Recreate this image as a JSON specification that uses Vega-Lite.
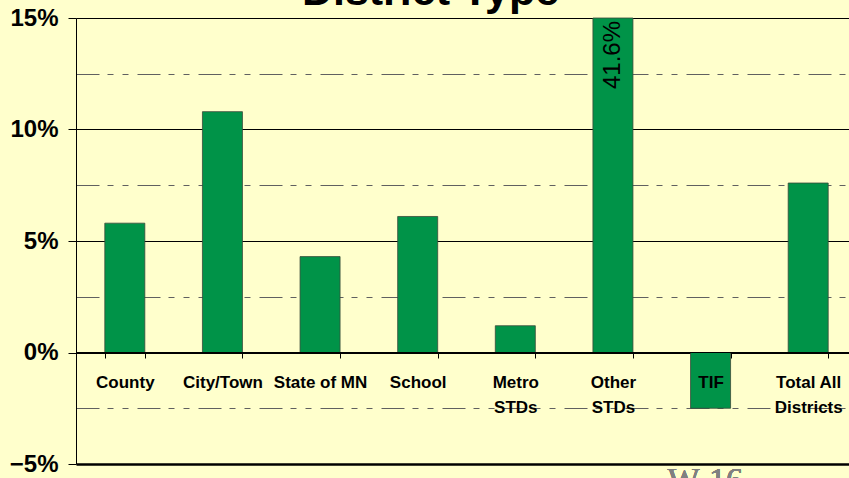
{
  "$schema": "https://vega.github.io/schema/vega-lite/v6.json",
  "width": 781,
  "height": 446,
  "autosize": {"type": "none"},
  "padding": {"left": 76, "top": 18, "right": 0, "bottom": 14},
  "background": "#FFFFCC",
  "title": {
    "text": "District Type",
    "font": "Liberation Sans",
    "fontSize": 43,
    "fontWeight": "bold",
    "color": "#000000",
    "anchor": "middle",
    "frame": "group",
    "baseline": "alphabetic",
    "offset": 0,
    "dy": 42,
    "dx": -36
  },
  "config": {"view": {"stroke": null}},
  "data": {
    "values": [
      {"type": "County", "change": 0.058},
      {"type": "City/Town", "change": 0.108},
      {"type": "State of MN", "change": 0.043},
      {"type": "School", "change": 0.061},
      {"type": "Metro STDs", "change": 0.012},
      {"type": "Other STDs", "change": 0.416},
      {"type": "TIF", "change": -0.025},
      {"type": "Total All Districts", "change": 0.076}
    ]
  },
  "encoding": {
    "x": {
      "field": "type",
      "type": "nominal",
      "sort": null,
      "scale": {"paddingInner": 0.59, "paddingOuter": 0.295},
      "axis": {
        "title": null,
        "orient": "bottom",
        "offset": -112,
        "zindex": 1,
        "grid": false,
        "domainColor": "#000000",
        "domainWidth": 1,
        "tickBand": "extent",
        "tickColor": "#000000",
        "tickSize": 6,
        "labelAngle": 0,
        "labelFont": "Liberation Sans",
        "labelFontWeight": "bold",
        "labelFontSize": 17,
        "labelColor": "#000000",
        "labelPadding": 16,
        "labelLineHeight": 25,
        "labelExpr": "datum.label == 'Metro STDs' ? ['Metro', 'STDs'] : datum.label == 'Other STDs' ? ['Other', 'STDs'] : datum.label == 'Total All Districts' ? ['Total All', 'Districts'] : datum.label"
      }
    }
  },
  "layer": [
    {
      "mark": {"type": "bar", "color": "#009348", "stroke": "#3a4a3a", "strokeWidth": 0.8},
      "encoding": {
        "y": {
          "field": "change",
          "type": "quantitative",
          "scale": {"domain": [-0.05, 0.15], "nice": false, "zero": false, "clamp": true},
          "axis": {
            "title": null,
            "values": [-0.05, -0.025, 0, 0.025, 0.05, 0.075, 0.1, 0.125, 0.15],
            "labelExpr": "round(datum.value * 1000) % 50 == 0 ? format(datum.value, '.0%') : ''",
            "labelFont": "Liberation Sans",
            "labelFontWeight": "bold",
            "labelFontSize": 24,
            "labelColor": "#000000",
            "labelPadding": 10,
            "domainColor": "#000000",
            "domainWidth": 1,
            "tickColor": "#000000",
            "tickSize": 8,
            "tickOpacity": {"condition": {"test": "round(datum.value * 1000) % 50 != 0", "value": 0}, "value": 1},
            "grid": true,
            "gridColor": {"condition": {"test": "round(datum.value * 1000) % 50 != 0", "value": "#606060"}, "value": "#000000"},
            "gridDash": {"condition": {"test": "round(datum.value * 1000) % 50 != 0", "value": [23, 8, 6, 9, 6, 9]}, "value": []},
            "gridWidth": {"condition": {"test": "datum.value < -0.04", "value": 2.5}, "value": 1},
            "gridOpacity": 1,
            "zindex": 0
          }
        },
        "y2": {"datum": 0}
      }
    },
    {
      "transform": [{"filter": "datum.change > 0.15"}],
      "mark": {
        "type": "text",
        "angle": -90,
        "align": "right",
        "baseline": "middle",
        "dx": -3,
        "font": "Liberation Sans",
        "fontSize": 24,
        "color": "#000000"
      },
      "encoding": {
        "y": {"datum": 0.15, "type": "quantitative"},
        "text": {"field": "change", "type": "quantitative", "format": ".1%"}
      }
    },
    {
      "mark": {
        "type": "text",
        "align": "left",
        "baseline": "alphabetic",
        "font": "Liberation Serif",
        "fontSize": 34,
        "color": "#808080",
        "dx": -23,
        "dy": 27,
        "clip": false
      },
      "encoding": {
        "x": {"datum": "TIF", "bandPosition": 0},
        "y": {"datum": -0.05, "type": "quantitative"},
        "text": {"value": "W-16"}
      }
    }
  ]
}
